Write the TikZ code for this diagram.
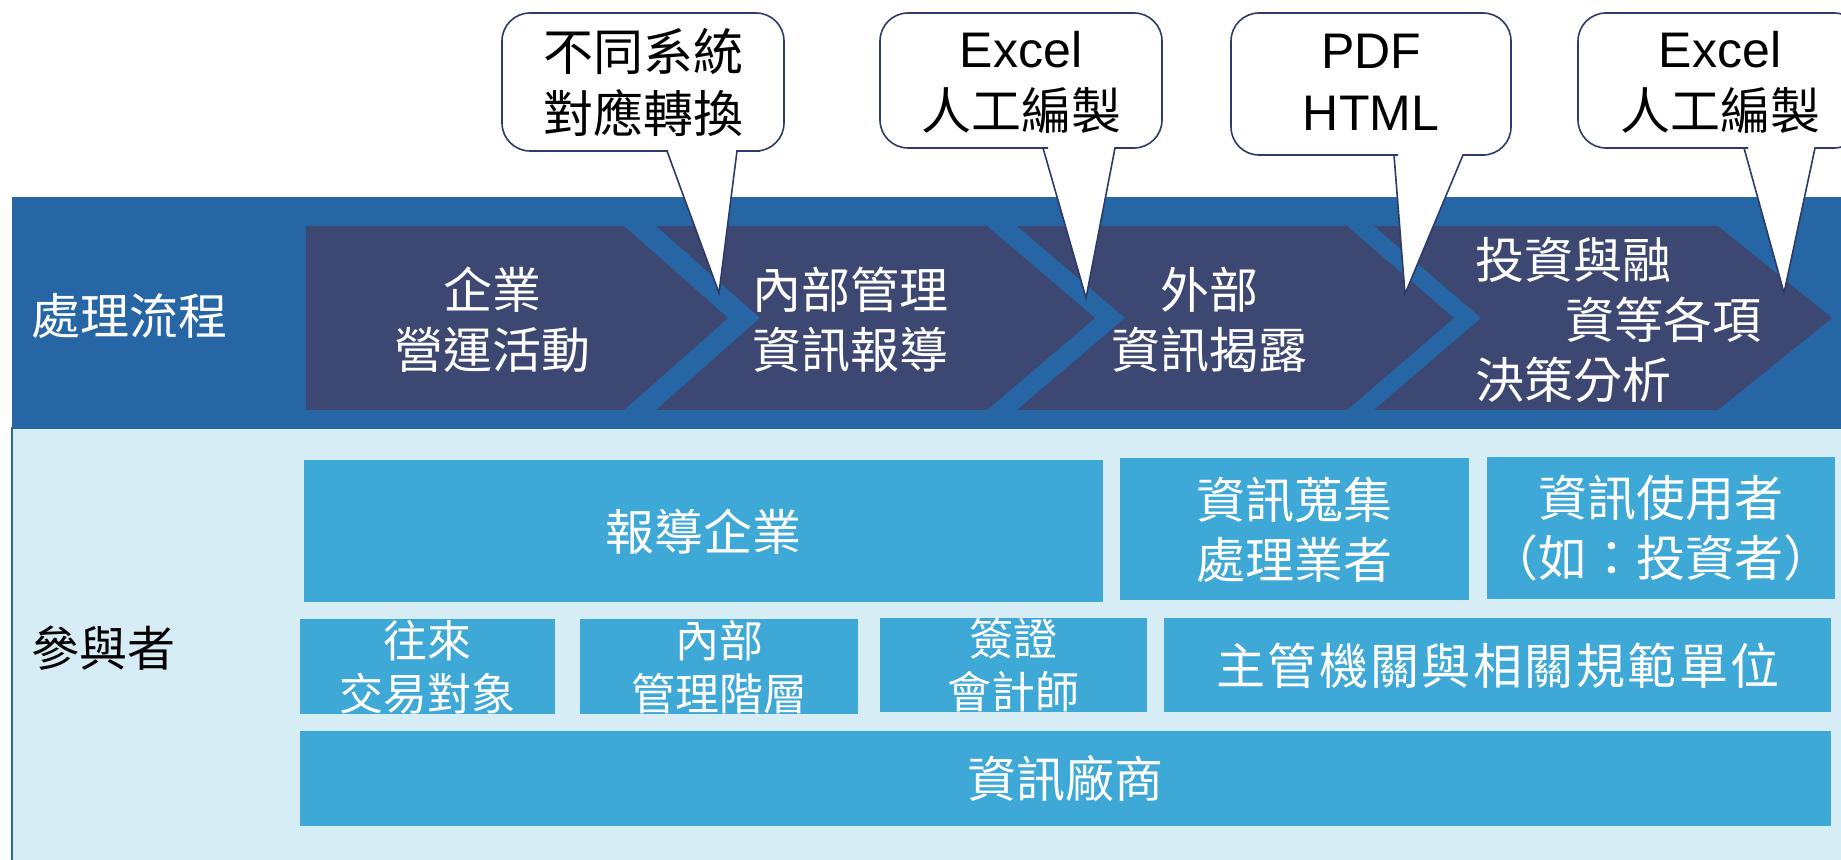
\documentclass[tikz,border=0pt]{standalone}
\usepackage{fontspec}
\setmainfont{Liberation Sans}
\newfontfamily\tc{Noto Sans CJK TC}
\newfontfamily\tcwide[LetterSpace=5]{Noto Sans CJK TC}
\definecolor{bandblue}{HTML}{2766A5}
\definecolor{chevnavy}{HTML}{3C4872}
\definecolor{paleblue}{HTML}{D7EDF5}
\definecolor{partblue}{HTML}{3EA8D6}
\definecolor{bubbleline}{HTML}{2E3A68}

\begin{document}
\begin{tikzpicture}[x=0.5pt,y=-0.5pt]
        \tikzset{
          chev/.style={fill=chevnavy},
          bubble/.style={fill=white, draw=bubbleline, line width=0.8pt},
          btxt/.style={inner sep=0pt, align=center, text=black, font=\fontsize{25}{31}\selectfont},
          slbl/.style={inner sep=0pt, align=center, text=white, font=\tc\fontsize{24.5}{30}\selectfont},
          part/.style={fill=partblue, inner sep=0pt, anchor=north west, align=center, text=white,
                       font=\tc\fontsize{24.5}{30}\selectfont},
          small/.style={font=\tc\fontsize{22}{26.5}\selectfont}
        }
        \useasboundingbox (0,0) rectangle (1841,860);

        % — band and participant area —
        \fill[bandblue] (12,197) rectangle (1841,428);
        \draw[fill=paleblue, draw=bandblue, line width=0.6pt] (12,428) rectangle (1846,866);
        \node[slbl] (flow) at (130,316) {處理流程};
        \node[inner sep=0pt, font=\tc\fontsize{24}{30}\selectfont] (who) at (104,648) {參與者};

        % — process chevrons —
        \foreach \a/\b/\n/\d in {306/624/0/104, 656/987/104/108, 1017/1347/108/107, 1374/1718/107/114} {
          \fill[chev] (\a,226) -- (\b,226) -- (\b+\d,318) -- (\b,410) -- (\a,410) -- (\a+\n,318) -- cycle;
        }
        \node[slbl] (s1) at (492,320) {企業\\營運活動};
        \node[slbl] (s2) at (850,320) {內部管理\\資訊報導};
        \node[slbl] (s3) at (1209,320) {外部\\資訊揭露};
        \node[slbl, anchor=west, align=left] (s4) at (1475,320) {投資與融\\\hspace*{45pt}資等各項\\決策分析};

        % — callouts —
        \coordinate (p1) at (719,293);
        \draw[bubble] (p1) -- (737,151) -- (760,151) [rounded corners=14pt] -- (784,151) -- (784,13)
          -- (502,13) -- (502,151) -- (640,151) [sharp corners] -- (667,151) -- cycle;
        \node[btxt, font=\tc\fontsize{25}{31}\selectfont] (c1) at (643,82) {不同系統\\對應轉換};

        \coordinate (p2) at (1086,298);
        \draw[bubble] (p2) -- (1115,148) -- (1135,148) [rounded corners=14pt] -- (1162,148) -- (1162,13)
          -- (880,13) -- (880,148) -- (1020,148) [sharp corners] -- (1043,148) -- cycle;
        \node[btxt] (c2) at (1021,82) {Excel\\{\tc 人工編製}};

        \coordinate (p3) at (1405,294);
        \draw[bubble] (p3) -- (1463,155) -- (1485,155) [rounded corners=14pt] -- (1511,155) -- (1511,13)
          -- (1231,13) -- (1231,155) -- (1370,155) [sharp corners] -- (1394,155) -- cycle;
        \node[btxt] (c3) at (1371,82) {PDF\\HTML};

        \coordinate (p4) at (1784,293);
        \draw[bubble] (p4) -- (1815,148) -- (1835,148) [rounded corners=14pt] -- (1862,148) -- (1862,13)
          -- (1578,13) -- (1578,148) -- (1720,148) [sharp corners] -- (1744,148) -- cycle;
        \node[btxt] (c4) at (1720,82) {Excel\\{\tc 人工編製}};

        % — participants —
        \node[part, minimum width=399.5pt, minimum height=71pt] (rep) at (304,460) {報導企業};
        \node[part, minimum width=174.5pt, minimum height=71pt] (col) at (1120,458) {資訊蒐集\\處理業者};
        \node[part, minimum width=174pt, minimum height=71pt] (usr) at (1487,457) {資訊使用者\\（如：投資者）};
        \node[part, small, minimum width=127.5pt, minimum height=47.5pt] (par) at (300,619) {往來\\交易對象};
        \node[part, small, minimum width=139pt, minimum height=47.5pt] (mgr) at (580,619) {內部\\管理階層};
        \node[part, small, minimum width=133.5pt, minimum height=47pt] (cpa) at (880,618) {簽證\\會計師};
        \node[part, minimum width=333.5pt, minimum height=47pt, font=\tcwide\fontsize{24.5}{30}\selectfont] (reg) at (1164,618) {主管機關與相關規範單位};
        \node[part, minimum width=765.5pt, minimum height=47.5pt] (ven) at (300,731) {資訊廠商};

\end{tikzpicture}
\end{document}
